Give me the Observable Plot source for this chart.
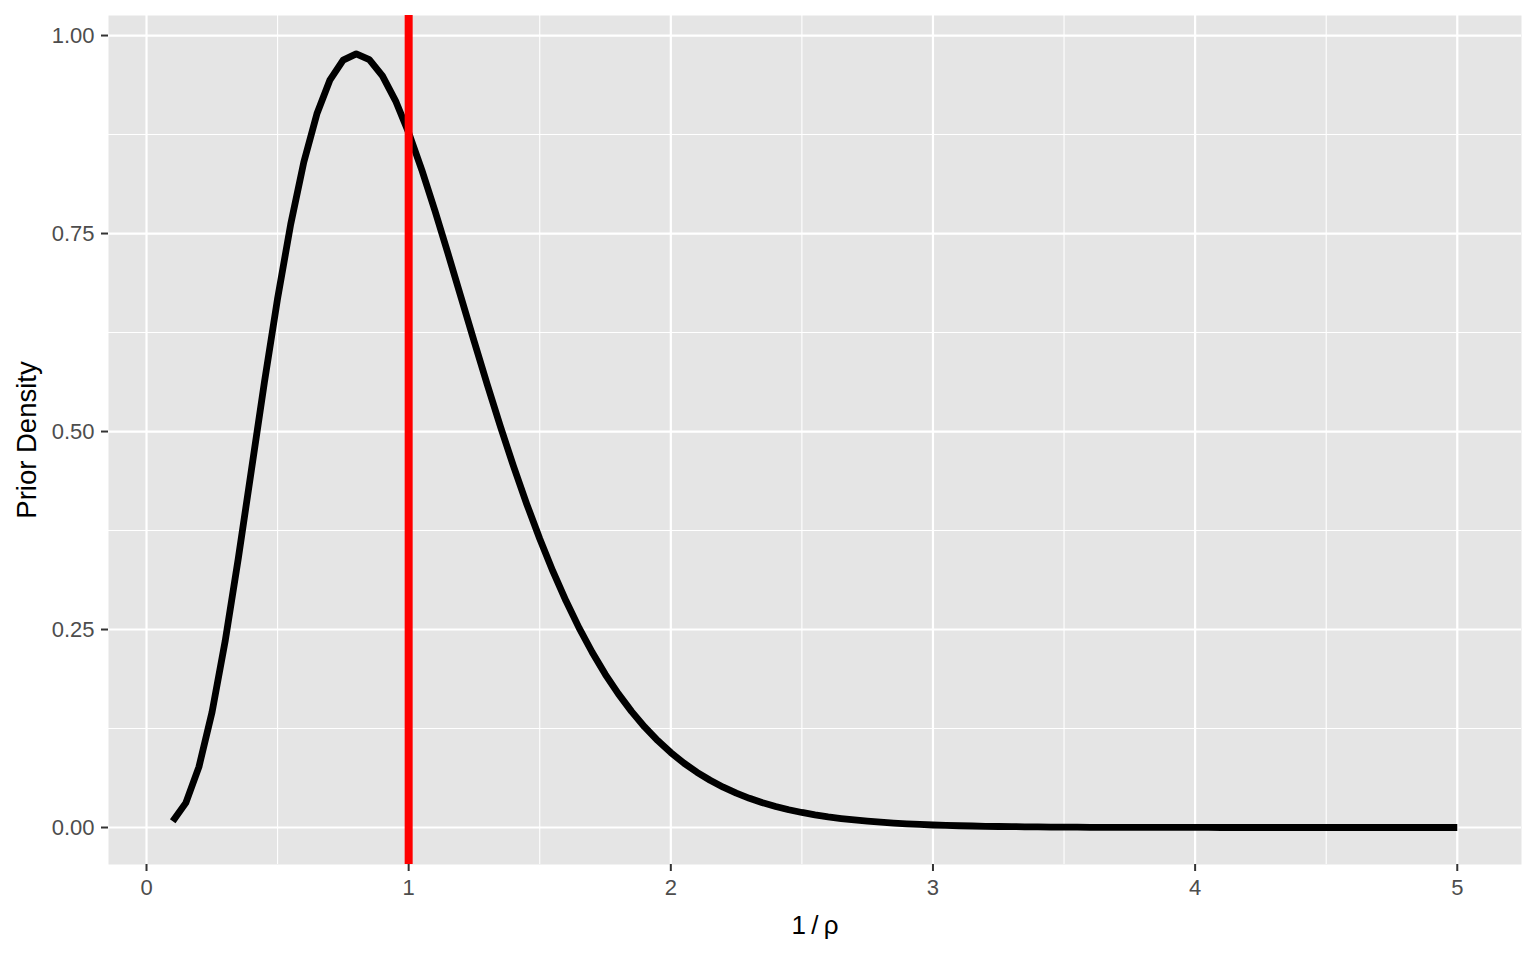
<!DOCTYPE html>
<html>
<head>
<meta charset="utf-8">
<script src="https://cdn.jsdelivr.net/npm/d3@7"></script>
<script src="https://cdn.jsdelivr.net/npm/@observablehq/plot@0.6"></script>
<style>
  html, body { margin: 0; padding: 0; background: #fff; }
  #chart svg { display: block; }
</style>
</head>
<body>
<div id="chart"></div>
<script>
// x values (1/rho) and prior density values
const xVals = [0.10,0.15,0.20,0.25,0.30,0.35,0.40,0.45,0.50,0.55,0.60,0.65,0.70,0.75,0.80,0.85,0.90,0.95,1.00,
  1.05,1.10,1.15,1.20,1.25,1.30,1.35,1.40,1.45,1.50,1.55,1.60,1.65,1.70,1.75,1.80,1.85,1.90,1.95,2.00,
  2.05,2.10,2.15,2.20,2.25,2.30,2.35,2.40,2.45,2.50,2.55,2.60,2.65,2.70,2.75,2.80,2.85,2.90,2.95,3.00,
  3.05,3.10,3.15,3.20,3.25,3.30,3.35,3.40,3.45,3.50,3.55,3.60,3.65,3.70,3.75,3.80,3.85,3.90,3.95,4.00,
  4.05,4.10,4.15,4.20,4.25,4.30,4.35,4.40,4.45,4.50,4.55,4.60,4.65,4.70,4.75,4.80,4.85,4.90,4.95,5.00];
const densityVals = [0.0079,0.0311,0.0766,0.1457,0.2353,0.3395,0.4511,0.5628,0.6680,0.7617,0.8402,0.9012,0.9441,0.9689,0.9768,0.9695,0.9490,0.9176,0.8773,
  0.8305,0.7791,0.7248,0.6693,0.6137,0.5591,0.5064,0.4561,0.4088,0.3646,0.3237,0.2863,0.2521,0.2213,0.1935,0.1687,0.1466,0.1270,0.1098,0.0946,
  0.0813,0.0697,0.0597,0.0509,0.0434,0.0369,0.0313,0.0265,0.0224,0.0190,0.0160,0.0134,0.0113,0.0095,0.0080,0.0067,0.0056,0.0046,0.0039,0.0032,
  0.0027,0.0022,0.0019,0.0015,0.0013,0.0011,0.0009,0.0007,0.0006,0.0005,0.0004,0.0003,0.0003,0.0002,0.0002,0.0002,0.0001,0.0001,0.0001,0.0001,
  0.0001,0.0000,0.0000,0.0000,0.0000,0.0000,0.0000,0.0000,0.0000,0.0000,0.0000,0.0000,0.0000,0.0000,0.0000,0.0000,0.0000,0.0000,0.0000,0.0000];
const refLine = [1];
const xTicks = [0, 1, 2, 3, 4, 5];
const xMinor = [0.5, 1.5, 2.5, 3.5, 4.5];
const yTicks = [0, 0.25, 0.5, 0.75, 1];
const yMinor = [0.125, 0.375, 0.625, 0.875];
const xTitle = "1\u2009/\u2009\u03C1";
const yTitle = "Prior Density";

const data = xVals.map((x, i) => ({x, y: densityVals[i]}));

const chart = Plot.plot({
  width: 1536,
  height: 960,
  marginLeft: 108,
  marginRight: 15,
  marginTop: 15,
  marginBottom: 96,
  style: {fontFamily: "'Liberation Sans', Arial, Helvetica, sans-serif", background: "#fff"},
  x: {domain: [-0.145, 5.245]},
  y: {domain: [-0.0467, 1.0253]},
  marks: [
    Plot.frame({fill: "#E5E5E5", stroke: null}),
    Plot.ruleX(xMinor, {stroke: "#fff", strokeWidth: 1.1}),
    Plot.ruleY(yMinor, {stroke: "#fff", strokeWidth: 1.1}),
    Plot.ruleX(xTicks, {stroke: "#fff", strokeWidth: 2.2}),
    Plot.ruleY(yTicks, {stroke: "#fff", strokeWidth: 2.2}),
    Plot.axisX({ticks: xTicks, tickFormat: d => String(d), tickSize: 7, tickPadding: 8, stroke: "#333", strokeWidth: 2, fill: "#4D4D4D", fontSize: 22, label: null}),
    Plot.axisY({ticks: yTicks, tickFormat: d => d.toFixed(2), tickSize: 7, tickPadding: 7, stroke: "#333", strokeWidth: 2, fill: "#4D4D4D", fontSize: 22, label: null}),
    Plot.line(data, {x: "x", y: "y", stroke: "#000", strokeWidth: 6.8, strokeLinecap: "butt", strokeLinejoin: "round"}),
    Plot.ruleX(refLine, {stroke: "#FF0000", strokeWidth: 8}),
    Plot.text([xTitle], {frameAnchor: "bottom", dy: 69, fontSize: 26, fill: "#000"}),
    Plot.text([yTitle], {frameAnchor: "left", dx: -81, rotate: -90, textAnchor: "middle", fontSize: 27.5, fill: "#000"})
  ]
});
document.getElementById("chart").appendChild(chart);
</script>
</body>
</html>
